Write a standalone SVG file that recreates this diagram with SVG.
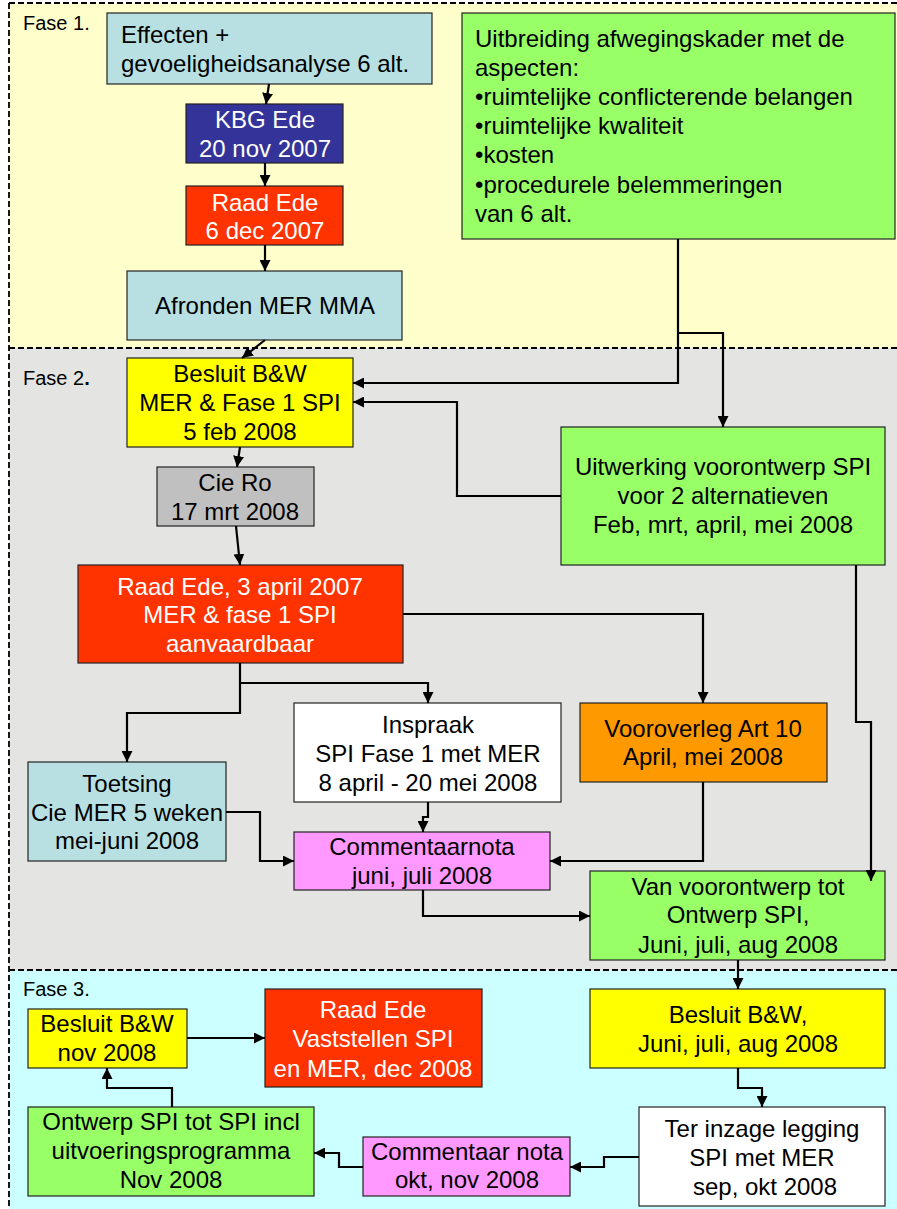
<svg xmlns="http://www.w3.org/2000/svg" width="897" height="1209" viewBox="0 0 897 1209">
<defs>
<marker id="ah" viewBox="0 0 10 10" refX="10" refY="5" markerWidth="5" markerHeight="5" orient="auto" markerUnits="strokeWidth">
<path d="M0,0 L10,5 L0,10 Z" fill="#000"/>
</marker>
<style>
.box{stroke:#222;stroke-width:1.2}
text{font-family:"Liberation Sans",Arial,sans-serif;font-size:24px;fill:#000}
.c{text-anchor:middle}
.w{fill:#fff}
.lab{font-size:20px}
.con{fill:none;stroke:#000;stroke-width:2.2;marker-end:url(#ah)}
.ph{fill:none;stroke:#000;stroke-width:1.8;stroke-dasharray:6,3}
</style>
</defs>
<g id="phases">
<rect x="9" y="3" width="890" height="345" fill="#FFFFCC"/>
<rect x="9" y="348" width="890" height="622" fill="#E4E5E2"/>
<rect x="9" y="970" width="890" height="241" fill="#CCFFFF"/>
<line class="ph" x1="9" y1="3" x2="897" y2="3"/>
<line class="ph" x1="9" y1="348" x2="897" y2="348"/>
<line class="ph" x1="9" y1="970" x2="897" y2="970"/>
<line class="ph" x1="9" y1="3" x2="9" y2="1209"/>
<text class="lab" x="23" y="30">Fase 1.</text>
<text class="lab" x="23" y="385">Fase 2<tspan font-weight="bold">.</tspan></text>
<text class="lab" x="23" y="996">Fase 3.</text>
</g>
<g id="n-effecten">
<rect class="box" x="107" y="13" width="325" height="71" fill="#B8E0E3"/>
<text x="121" y="43">Effecten +</text>
<text x="121" y="72">gevoeligheidsanalyse 6 alt.</text>
</g>
<g id="n-kbg">
<rect class="box" x="186" y="104" width="157" height="59" fill="#333399"/>
<text class="c w" x="265" y="128">KBG Ede</text>
<text class="c w" x="265" y="157">20 nov 2007</text>
</g>
<g id="n-raad1">
<rect class="box" x="186" y="186" width="157" height="59" fill="#FF3300"/>
<text class="c w" x="265" y="211">Raad Ede</text>
<text class="c w" x="265" y="239">6 dec 2007</text>
</g>
<g id="n-afronden">
<rect class="box" x="127" y="271" width="275" height="69" fill="#B8E0E3"/>
<text class="c" x="265" y="314">Afronden MER MMA</text>
</g>
<g id="n-uitbreiding">
<rect class="box" x="462" y="13" width="433" height="226" fill="#99FF66"/>
<text x="475" y="47">Uitbreiding afwegingskader met de</text>
<text x="475" y="76">aspecten:</text>
<text x="475" y="105">•ruimtelijke conflicterende belangen</text>
<text x="475" y="134">•ruimtelijke kwaliteit</text>
<text x="475" y="163">•kosten</text>
<text x="475" y="193">•procedurele belemmeringen</text>
<text x="475" y="222">van 6 alt.</text>
</g>
<g id="n-besluit1">
<rect class="box" x="127" y="358" width="226" height="89" fill="#FFFF00"/>
<text class="c" x="240" y="382">Besluit B&amp;W</text>
<text class="c" x="240" y="411">MER &amp; Fase 1 SPI</text>
<text class="c" x="240" y="440">5 feb 2008</text>
</g>
<g id="n-uitwerking">
<rect class="box" x="561" y="427" width="324" height="138" fill="#99FF66"/>
<text class="c" x="723" y="475">Uitwerking voorontwerp SPI</text>
<text class="c" x="723" y="504">voor 2 alternatieven</text>
<text class="c" x="723" y="533">Feb, mrt, april, mei 2008</text>
</g>
<g id="n-cie">
<rect class="box" x="157" y="467" width="157" height="59" fill="#C0C0C0"/>
<text class="c" x="235" y="491">Cie Ro</text>
<text class="c" x="235" y="520">17 mrt 2008</text>
</g>
<g id="n-raad2">
<rect class="box" x="78" y="565" width="325" height="98" fill="#FF3300"/>
<text class="c w" x="240" y="595">Raad Ede, 3 april 2007</text>
<text class="c w" x="240" y="623">MER &amp; fase 1 SPI</text>
<text class="c w" x="240" y="652">aanvaardbaar</text>
</g>
<g id="n-inspraak">
<rect class="box" x="294" y="703" width="267" height="99" fill="#FFFFFF"/>
<text class="c" x="428" y="733">Inspraak</text>
<text class="c" x="428" y="762">SPI Fase 1 met MER</text>
<text class="c" x="428" y="791">8 april - 20 mei 2008</text>
</g>
<g id="n-vooroverleg">
<rect class="box" x="580" y="703" width="247" height="79" fill="#FF9900"/>
<text class="c" x="703" y="737">Vooroverleg Art 10</text>
<text class="c" x="703" y="765">April, mei 2008</text>
</g>
<g id="n-toetsing">
<rect class="box" x="28" y="762" width="198" height="99" fill="#B8E0E3"/>
<text class="c" x="127" y="792">Toetsing</text>
<text class="c" x="127" y="821">Cie MER 5 weken</text>
<text class="c" x="127" y="849">mei-juni 2008</text>
</g>
<g id="n-commentaarnota">
<rect class="box" x="294" y="832" width="256" height="58" fill="#FF99FF"/>
<text class="c" x="422" y="855">Commentaarnota</text>
<text class="c" x="422" y="884">juni, juli 2008</text>
</g>
<g id="n-vanvoorontwerp">
<rect class="box" x="590" y="871" width="295" height="89" fill="#99FF66"/>
<text class="c" x="738" y="895">Van voorontwerp tot</text>
<text class="c" x="738" y="923">Ontwerp SPI,</text>
<text class="c" x="738" y="953">Juni, juli, aug 2008</text>
</g>
<g id="n-besluit2">
<rect class="box" x="28" y="1009" width="159" height="59" fill="#FFFF00"/>
<text class="c" x="107" y="1032">Besluit B&amp;W</text>
<text class="c" x="107" y="1061">nov 2008</text>
</g>
<g id="n-raad3">
<rect class="box" x="265" y="989" width="217" height="98" fill="#FF3300"/>
<text class="c w" x="373" y="1018">Raad Ede</text>
<text class="c w" x="373" y="1047">Vaststellen SPI</text>
<text class="c w" x="373" y="1077">en MER, dec 2008</text>
</g>
<g id="n-besluit3">
<rect class="box" x="590" y="989" width="295" height="79" fill="#FFFF00"/>
<text class="c" x="738" y="1023">Besluit B&amp;W,</text>
<text class="c" x="738" y="1052">Juni, juli, aug 2008</text>
</g>
<g id="n-ontwerp">
<rect class="box" x="28" y="1107" width="286" height="89" fill="#99FF66"/>
<text class="c" x="171" y="1130">Ontwerp SPI tot SPI incl</text>
<text class="c" x="171" y="1159">uitvoeringsprogramma</text>
<text class="c" x="171" y="1188">Nov 2008</text>
</g>
<g id="n-commentaar2">
<rect class="box" x="363" y="1137" width="207" height="59" fill="#FF99FF"/>
<text class="c" x="467" y="1160">Commentaar nota</text>
<text class="c" x="467" y="1188">okt, nov 2008</text>
</g>
<g id="n-terinzage">
<rect class="box" x="639" y="1107" width="246" height="99" fill="#FFFFFF"/>
<text class="c" x="762" y="1137">Ter inzage legging</text>
<text class="c" x="762" y="1166">SPI met MER</text>
<text class="c" x="765" y="1195">sep, okt 2008</text>
</g>
<g id="connectors">
<path class="con" d="M269,84 L266,104"/>
<path class="con" d="M265,163 L265,186"/>
<path class="con" d="M265,245 L265,271"/>
<path class="con" d="M265,340 L242,358"/>
<path class="con" d="M678,239 L678,383 L353,383"/>
<path class="con" d="M678,333 L723,333 L723,427"/>
<path class="con" d="M561,496 L457,496 L457,402 L353,402"/>
<path class="con" d="M240,447 L237,467"/>
<path class="con" d="M236,526 L240,565"/>
<path class="con" d="M403,614 L703,614 L703,703"/>
<path class="con" d="M240,663 L240,713 L127,713 L127,762"/>
<path class="con" d="M240,683 L428,683 L428,703"/>
<path class="con" d="M856,565 L856,722 L871,722 L871,881"/>
<path class="con" d="M226,812 L260,812 L260,861 L294,861"/>
<path class="con" d="M428,802 L428,817 L423,817 L423,832"/>
<path class="con" d="M703,782 L703,861 L550,861"/>
<path class="con" d="M423,890 L423,916 L590,916"/>
<path class="con" d="M738,960 L738,989"/>
<path class="con" d="M738,1068 L738,1088 L762,1088 L762,1107"/>
<path class="con" d="M639,1157 L604,1157 L604,1167 L570,1167"/>
<path class="con" d="M363,1167 L339,1167 L339,1153 L314,1153"/>
<path class="con" d="M172,1107 L172,1088 L107,1088 L107,1068"/>
<path class="con" d="M187,1038 L265,1038"/>
</g>
</svg>
